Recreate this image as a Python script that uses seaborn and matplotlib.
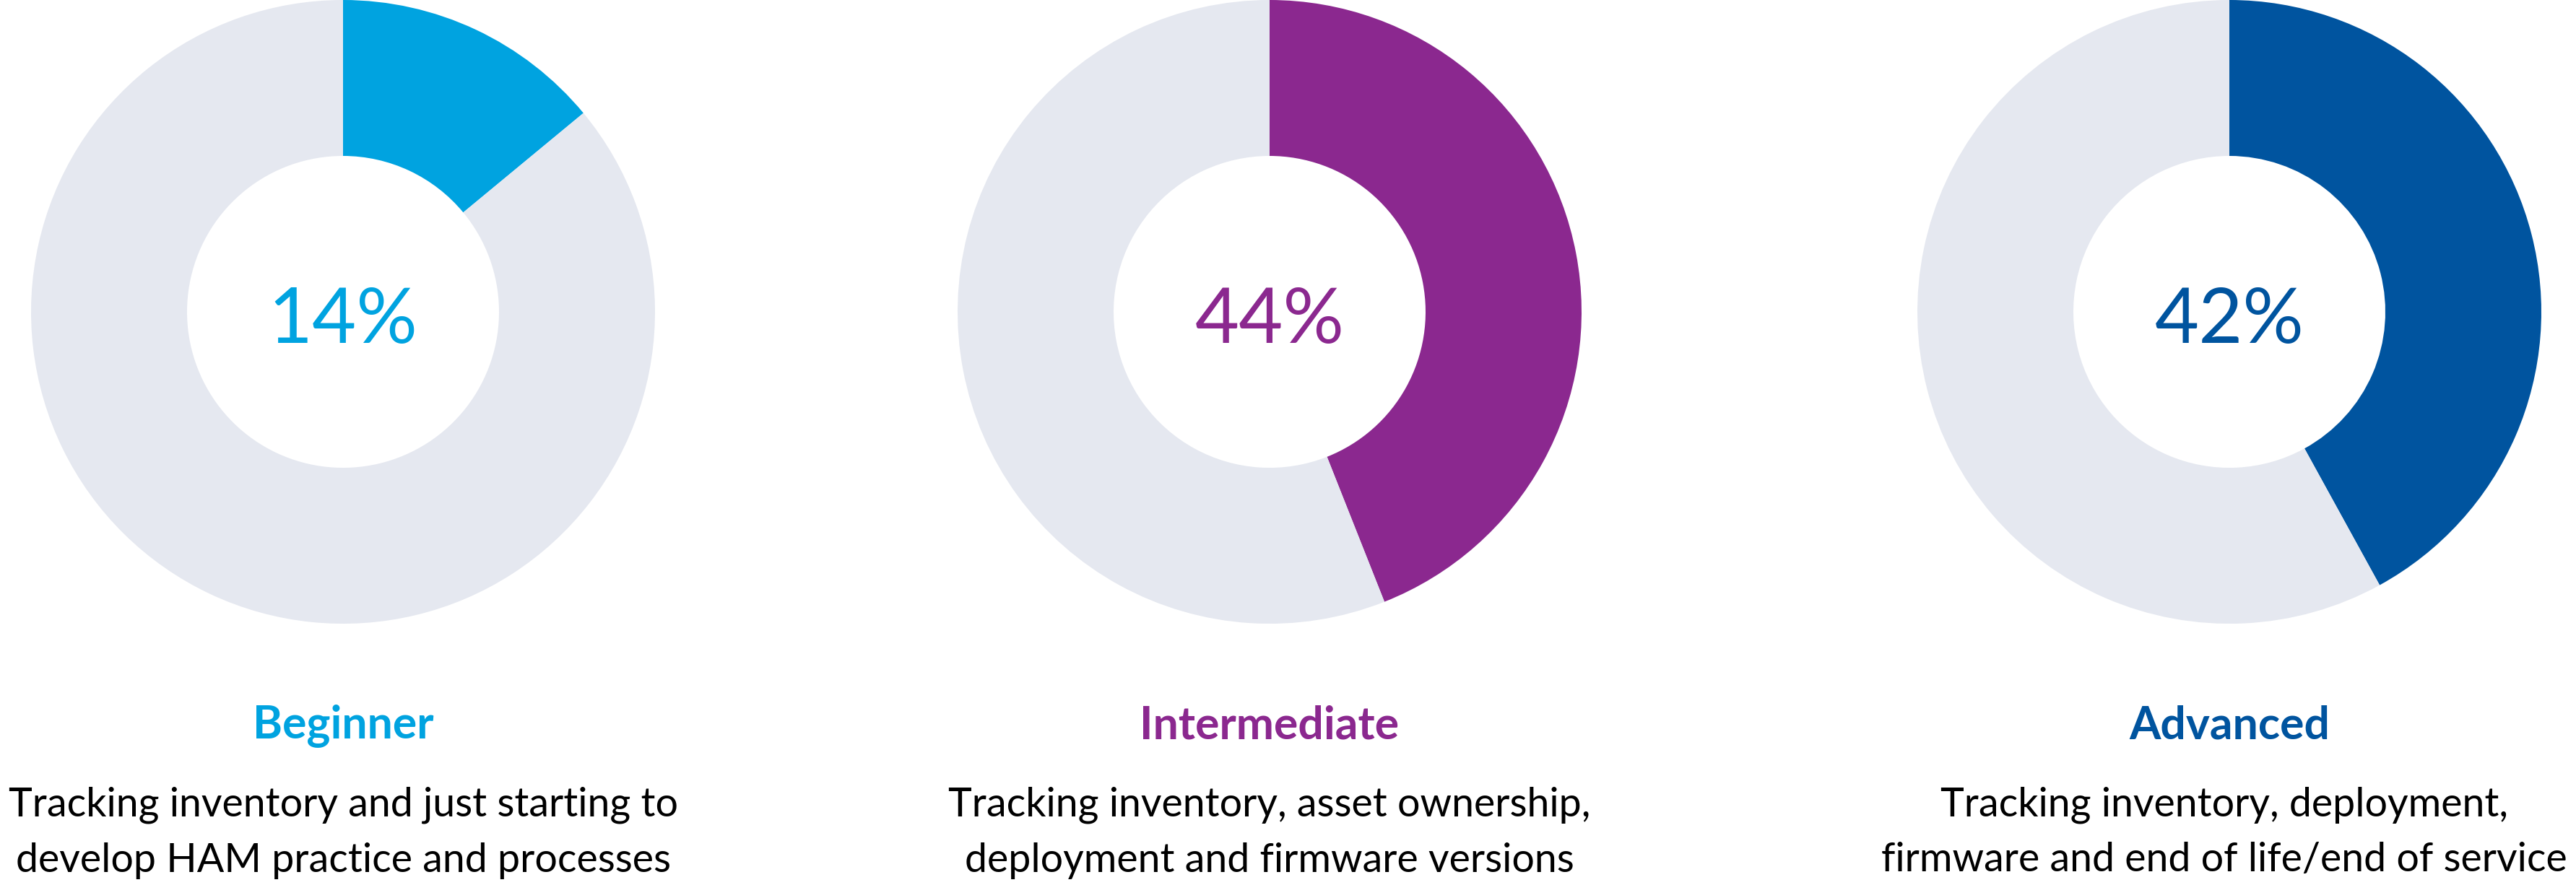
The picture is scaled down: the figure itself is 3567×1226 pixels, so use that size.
import matplotlib
matplotlib.use("Agg")
import matplotlib.pyplot as plt
import seaborn as sns

# ---- data ----
levels = ["Beginner", "Intermediate", "Advanced"]
percents = [14, 44, 42]
descriptions = [
    ["Tracking inventory and just starting to", "develop HAM practice and processes"],
    ["Tracking inventory, asset ownership,", "deployment and firmware versions"],
    ["Tracking inventory, deployment,", "firmware and end of life/end of service"],
]
colors = ["#00A3E0", "#8B288F", "#00549F"]
rest_color = "#E5E8F0"

sns.set_theme(style="white")
plt.rcParams["font.family"] = ["Lato", "DejaVu Sans"]

W, H = 3567, 1226
fig = plt.figure(figsize=(W / 100, H / 100), dpi=100)
fig.patch.set_facecolor("white")

centers_x = [475, 1758, 3087]
desc_x = [475, 1758, 3080]
cy = 432
R = 432

for i, (lvl, p, desc, col) in enumerate(zip(levels, percents, descriptions, colors)):
    cx = centers_x[i]
    ax = fig.add_axes([(cx - R) / W, 1 - (cy + R) / H, 2 * R / W, 2 * R / H])
    ax.pie([p, 100 - p], colors=[col, rest_color], startangle=90,
           counterclock=False, radius=1.0,
           wedgeprops=dict(width=0.5, linewidth=0))
    ax.set_xlim(-1, 1)
    ax.set_ylim(-1, 1)
    ax.set_aspect("equal")
    ax.axis("off")
    ax.text(0, -0.03, f"{p}%", ha="center", va="center", color=col,
            fontsize=76, fontweight="normal")

    fig.text(cx / W, 1 - 1005 / H, lvl, ha="center", va="center",
             color=col, fontsize=45, fontweight="bold")
    fig.text(desc_x[i] / W, 1 - 1115 / H, desc[0], ha="center", va="center",
             color="black", fontsize=40)
    fig.text(desc_x[i] / W, 1 - 1192 / H, desc[1], ha="center", va="center",
             color="black", fontsize=40)

fig.savefig("out.png", dpi=100, facecolor="white")
